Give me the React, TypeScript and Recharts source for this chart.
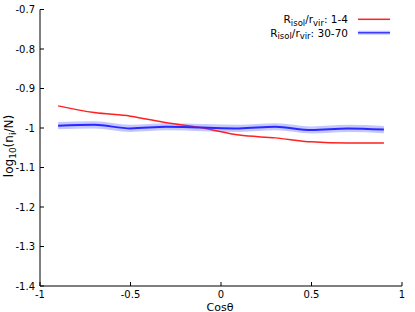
import {
  ComposedChart, Line, Area, XAxis, YAxis, Customized,
} from 'recharts';

const cosTheta = [-0.9, -0.7, -0.5, -0.3, -0.1, 0.1, 0.3, 0.5, 0.7, 0.9];
const red = [-0.944, -0.961, -0.970, -0.987, -1.000, -1.018, -1.025, -1.035, -1.038, -1.038];
const blue = [-0.994, -0.992, -1.001, -0.997, -0.999, -1.001, -0.997, -1.005, -1.001, -1.004];
const blueLo = [-1.003, -1.001, -1.010, -1.006, -1.008, -1.010, -1.006, -1.014, -1.010, -1.013];
const blueHi = [-0.985, -0.983, -0.992, -0.988, -0.990, -0.992, -0.988, -0.996, -0.992, -0.995];

const xTicks = [-1, -0.5, 0, 0.5, 1];
const yTicks = [-1.4, -1.3, -1.2, -1.1, -1.0, -0.9, -0.8, -0.7];

const data = cosTheta.map((x, i) => ({
  x,
  red: red[i],
  blue: blue[i],
  band: [blueLo[i], blueHi[i]],
}));

const FONT = '"DejaVu Sans", sans-serif';
const fmt = (v: number) => String(+v.toFixed(2));

const BottomTick = ({ x, y, payload }: any) => (
  <g>
    <line x1={x} x2={x} y1={y} y2={y - 4} stroke="#000" />
    <text x={x} y={y + 12} textAnchor="middle" fontSize={10} fontFamily={FONT} fill="#000">
      {fmt(payload.value)}
    </text>
  </g>
);

const TopTick = ({ x, y }: any) => (
  <line x1={x} x2={x} y1={y} y2={y + 4} stroke="#000" />
);

const LeftTick = ({ x, y, payload }: any) => (
  <g>
    <line x1={x} x2={x + 4} y1={y} y2={y} stroke="#000" />
    <text x={x - 5} y={y + 3.5} textAnchor="end" fontSize={10} fontFamily={FONT} fill="#000">
      {fmt(payload.value)}
    </text>
  </g>
);

const RightTick = ({ x, y }: any) => (
  <line x1={x} x2={x - 4} y1={y} y2={y} stroke="#000" />
);

const Labels = () => (
  <g fontFamily={FONT} fill="#000">
    <text x={220} y={310.5} textAnchor="middle" fontSize={11}>Cosθ</text>
    <text x={0} y={0} transform="translate(13,146) rotate(-90)" textAnchor="middle" fontSize={12}>
      log<tspan dy={3} fontSize={9}>10</tspan>
      <tspan dy={-3}>(n</tspan><tspan dy={3} fontSize={9}>i</tspan>
      <tspan dy={-3}>/N)</tspan>
    </text>
    <text x={348} y={23} textAnchor="end" fontSize={10.5}>
      R<tspan dy={2.5} fontSize={8.5}>isol</tspan>
      <tspan dy={-2.5}>/r</tspan><tspan dy={2.5} fontSize={8.5}>vir</tspan>
      <tspan dy={-2.5}>: 1-4</tspan>
    </text>
    <line x1={358} x2={390} y1={19.3} y2={19.3} stroke="#ff2020" strokeWidth={1.5} />
    <text x={348} y={36.5} textAnchor="end" fontSize={10.5}>
      R<tspan dy={2.5} fontSize={8.5}>isol</tspan>
      <tspan dy={-2.5}>/r</tspan><tspan dy={2.5} fontSize={8.5}>vir</tspan>
      <tspan dy={-2.5}>: 30-70</tspan>
    </text>
    <line x1={358} x2={390} y1={32.7} y2={32.7} stroke="#c4c8ff" strokeWidth={4} />
    <line x1={358} x2={390} y1={32.7} y2={32.7} stroke="#3c3cff" strokeWidth={1.5} />
  </g>
);

export default function App() {
  return (
    <div style={{ position: 'absolute', left: 0, top: 0 }}>
      <ComposedChart
        width={415}
        height={312}
        data={data}
        margin={{ top: 9.5, right: 13, left: 0, bottom: 0 }}
      >
        <XAxis
          type="number"
          dataKey="x"
          domain={[-1, 1]}
          ticks={xTicks}
          height={26}
          tickSize={0}
          tickMargin={0}
          tickLine={false}
          axisLine={{ stroke: '#000' }}
          tick={<BottomTick />}
        />
        <XAxis
          xAxisId="top"
          orientation="top"
          type="number"
          dataKey="x"
          domain={[-1, 1]}
          ticks={xTicks}
          height={0}
          tickSize={0}
          tickMargin={0}
          tickLine={false}
          axisLine={{ stroke: '#000' }}
          tick={<TopTick />}
        />
        <YAxis
          type="number"
          domain={[-1.4, -0.7]}
          ticks={yTicks}
          width={40}
          tickSize={0}
          tickMargin={0}
          tickLine={false}
          axisLine={{ stroke: '#000' }}
          tick={<LeftTick />}
        />
        <YAxis
          yAxisId="right"
          orientation="right"
          type="number"
          domain={[-1.4, -0.7]}
          ticks={yTicks}
          width={0}
          tickSize={0}
          tickMargin={0}
          tickLine={false}
          axisLine={{ stroke: '#000' }}
          tick={<RightTick />}
        />
        <Area
          dataKey="band"
          type="monotone"
          stroke="none"
          fill="#c4c8ff"
          fillOpacity={1}
          isAnimationActive={false}
          dot={false}
          activeDot={false}
        />
        <Line
          dataKey="red"
          type="monotone"
          stroke="#ff2020"
          strokeWidth={1.5}
          dot={false}
          isAnimationActive={false}
        />
        <Line
          dataKey="blue"
          type="monotone"
          stroke="#2828ff"
          strokeWidth={2}
          dot={false}
          isAnimationActive={false}
        />
        <Customized component={Labels} />
      </ComposedChart>
    </div>
  );
}
